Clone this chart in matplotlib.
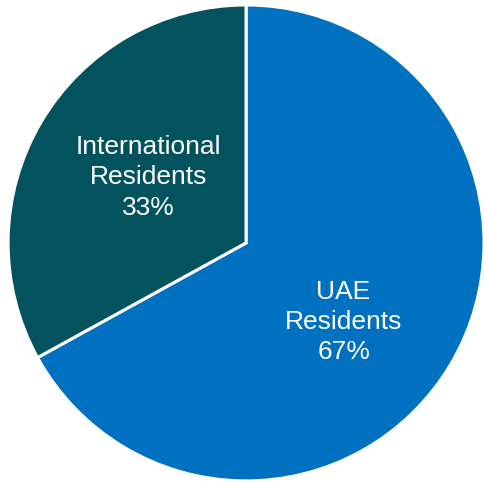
import numpy as np
import matplotlib
matplotlib.use("Agg")
from matplotlib import pyplot as plt

labels = ['UAE\nResidents', 'International\nResidents']
shares = [67, 33]
colors = ['#0070C0', '#03535F']

fig = plt.figure(figsize=(4.84, 4.85), dpi=100)
ax = fig.add_axes([0, 0, 1, 1])

wedges, _ = ax.pie(shares, colors=colors, startangle=90, counterclock=False,
                   radius=1.0, wedgeprops=dict(edgecolor='white', linewidth=2.2))

# labels placed near the middle of each wedge
offsets = [-7, -5]
for w, lab, val, off in zip(wedges, labels, shares, offsets):
    ang = np.deg2rad((w.theta1 + w.theta2) / 2 + off)
    x, y = 0.51 * np.cos(ang), 0.51 * np.sin(ang) - 0.017
    ax.text(x + 0.006, y, f'{lab}\n{val}%', ha='center', va='center', color='white',
            fontsize=19, family='Liberation Sans', linespacing=1.34)

ax.set_xlim(-1.034, 1.0)
ax.set_ylim(-1.013, 1.025)
ax.set_aspect('auto')
ax.axis('off')

fig.savefig('out.png', dpi=100)
